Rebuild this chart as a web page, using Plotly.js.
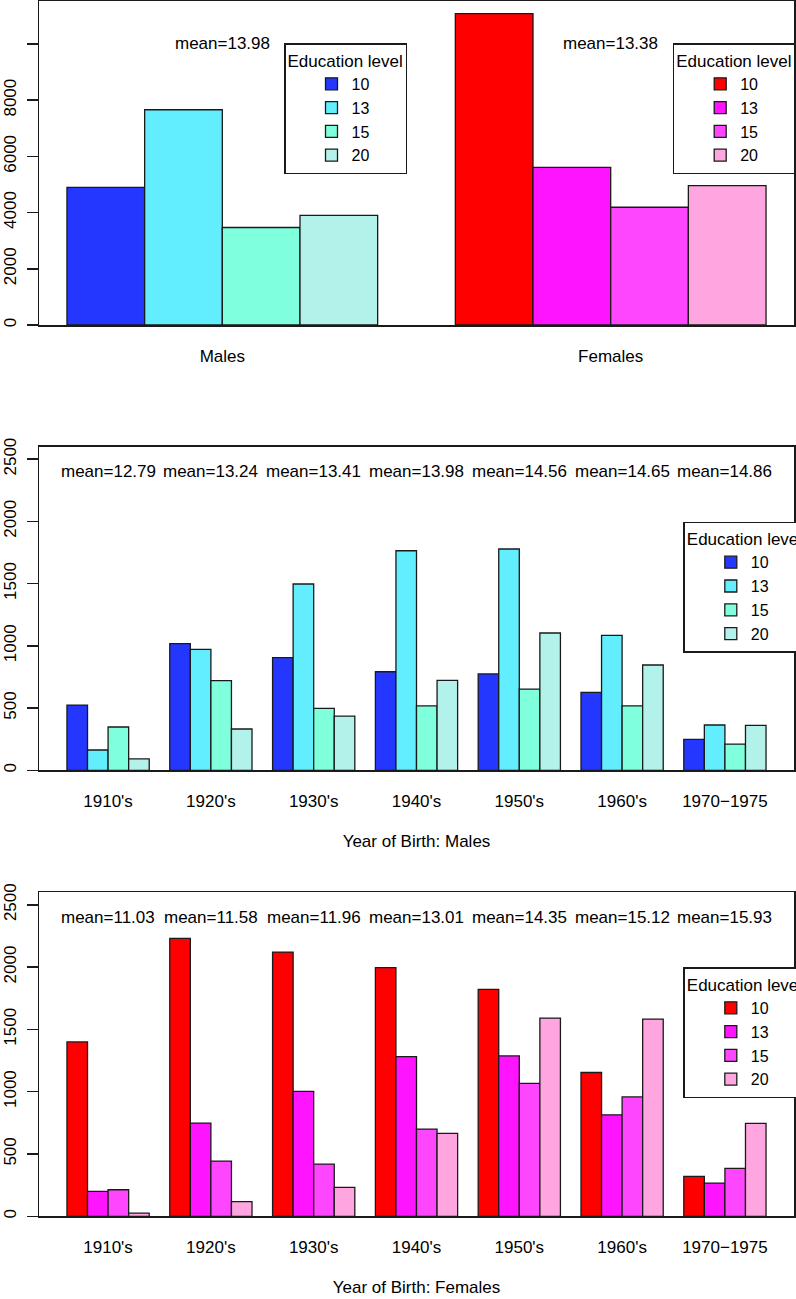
<!DOCTYPE html>
<html>
<head>
<meta charset="utf-8">
<script src="https://cdn.plot.ly/plotly-3.0.1.min.js"></script>
<style>html,body{margin:0;padding:0;background:#fff;}#chart{width:796px;height:1299px;}</style>
</head>
<body>
<div id="chart"></div>
<script>
// ---------- data ----------
const eduLevels = ["10", "13", "15", "20"];
const sexes = ["Males", "Females"];
const sexMeans = ["mean=13.98", "mean=13.38"];
const maleTotals = [4900, 7660, 3470, 3900];
const femaleTotals = [11080, 5610, 4190, 4960];

const decades = ["1910's", "1920's", "1930's", "1940's", "1950's", "1960's", "1970\u22121975"];
const maleMeans = ["mean=12.79", "mean=13.24", "mean=13.41", "mean=13.98", "mean=14.56", "mean=14.65", "mean=14.86"];
const femaleMeans = ["mean=11.03", "mean=11.58", "mean=11.96", "mean=13.01", "mean=14.35", "mean=15.12", "mean=15.93"];

const maleEdu10 = [524, 1017, 905, 792, 774, 626, 249];
const maleEdu13 = [163, 972, 1497, 1764, 1778, 1084, 364];
const maleEdu15 = [348, 720, 498, 517, 653, 517, 211];
const maleEdu20 = [91, 332, 436, 723, 1103, 846, 361];

const femaleEdu10 = [1399, 2230, 2120, 1995, 1821, 1154, 320];
const femaleEdu13 = [200, 748, 1002, 1282, 1287, 814, 267];
const femaleEdu15 = [213, 443, 419, 700, 1066, 958, 385];
const femaleEdu20 = [26, 117, 232, 665, 1591, 1583, 745];

const maleColors = ["#2437FF", "#62EEFF", "#7FFFDB", "#B3F2EB"];
const femaleColors = ["#FF0000", "#FF14FF", "#FF46FF", "#FFA6E0"];

// ---------- helpers ----------
const W = 796, H = 1299;
const FONT = "Liberation Sans, Arial, Helvetica, sans-serif";
const lineC = "#1a1a1a";
const px = v => v / W;
const py = v => 1 - v / H;

const traces = [];
const barLine = {color: lineC, width: 1.3};

// top panel
eduLevels.forEach((lv, i) => {
  traces.push({type: "bar", x: [sexes[0]], y: [maleTotals[i]], name: lv, xaxis: "x", yaxis: "y",
    offsetgroup: lv, marker: {color: maleColors[i], line: barLine}, legend: "legend", hoverinfo: "x+y"});
});
eduLevels.forEach((lv, i) => {
  traces.push({type: "bar", x: [sexes[1]], y: [femaleTotals[i]], name: lv, xaxis: "x", yaxis: "y",
    offsetgroup: lv, marker: {color: femaleColors[i], line: barLine}, legend: "legend2", hoverinfo: "x+y"});
});
// middle
const maleSeries = [maleEdu10, maleEdu13, maleEdu15, maleEdu20];
const femaleSeries = [femaleEdu10, femaleEdu13, femaleEdu15, femaleEdu20];
eduLevels.forEach((lv, i) => {
  traces.push({type: "bar", x: decades, y: maleSeries[i], name: lv, xaxis: "x2", yaxis: "y2",
    marker: {color: maleColors[i], line: barLine}, legend: "legend3"});
});
eduLevels.forEach((lv, i) => {
  traces.push({type: "bar", x: decades, y: femaleSeries[i], name: lv, xaxis: "x3", yaxis: "y3",
    marker: {color: femaleColors[i], line: barLine}, legend: "legend4"});
});

const tickFont = {family: FONT, size: 17, color: "#000"};
const xDom = [px(39), px(794)];

function xAxis(range, anchor, title) {
  const a = {domain: xDom, anchor: anchor, range: range, type: "category", showline: true, mirror: true,
    linecolor: lineC, linewidth: 1.5, ticks: "", showgrid: false, zeroline: false,
    tickfont: tickFont, ticklabelstandoff: 15, fixedrange: true};
  if (title) a.title = {text: title, font: tickFont, standoff: 25};
  return a;
}
function yAxis(domain, anchor, range, tv, tt) {
  return {domain: domain, anchor: anchor, range: range, showline: true, mirror: true, linecolor: lineC,
    linewidth: 1.5, ticks: "outside", ticklen: 11, tickwidth: 1.5, tickcolor: lineC, showgrid: false,
    zeroline: false, tickvals: tv, ticktext: tt, tickangle: -90, tickfont: tickFont, ticklabelstandoff: 4,
    fixedrange: true};
}
const topTicks = [0, 2000, 4000, 6000, 8000, 10000];
const topText = ["0", "2000", "4000", "6000", "8000", ""];
const midTicks = [0, 500, 1000, 1500, 2000, 2500];
const midText = midTicks.map(String);

function legendOpts(x, y) {
  return {x: x, y: y, xanchor: "left", yanchor: "top", xref: "paper", yref: "paper",
    bgcolor: "#fff", bordercolor: lineC, borderwidth: 1.5,
    font: {family: FONT, size: 16, color: "#000"},
    title: {text: "Education level", font: {family: FONT, size: 17, color: "#000"}},
    indentation: 26, traceorder: "normal", itemclick: false, itemdoubleclick: false};
}

const annotations = [];
sexes.forEach((s, i) => annotations.push({xref: "x", yref: "y", x: i, y: 10000, text: sexMeans[i],
  showarrow: false, font: tickFont, xanchor: "center", yanchor: "middle"}));
decades.forEach((d, i) => annotations.push({xref: "x2", yref: "y2", x: i, y: 2400, text: maleMeans[i],
  showarrow: false, font: tickFont, xanchor: "center", yanchor: "middle"}));
decades.forEach((d, i) => annotations.push({xref: "x3", yref: "y3", x: i, y: 2400, text: femaleMeans[i],
  showarrow: false, font: tickFont, xanchor: "center", yanchor: "middle"}));

const layout = {
  width: W, height: H,
  margin: {l: 0, r: 0, t: 0, b: 0, autoexpand: false},
  paper_bgcolor: "#fff", plot_bgcolor: "#fff",
  font: {family: FONT, size: 17, color: "#000"},
  barmode: "group", bargap: 0.2, bargroupgap: 0,
  xaxis: xAxis([-0.472, 1.472], "y", null),
  yaxis: yAxis([py(325), py(1)], "x", [0, 11530], topTicks, topText),
  xaxis2: xAxis([-0.672, 6.672], "y2", "Year of Birth: Males"),
  yaxis2: yAxis([py(770.3), py(446.7)], "x2", [0, 2600], midTicks, midText),
  xaxis3: xAxis([-0.672, 6.672], "y3", "Year of Birth: Females"),
  yaxis3: yAxis([py(1216.3), py(892.3)], "x3", [0, 2600], midTicks, midText),
  legend: legendOpts(px(284), py(43.3)),
  legend2: legendOpts(px(672.7), py(43.3)),
  legend3: legendOpts(px(683.3), py(521.7)),
  legend4: legendOpts(px(683.3), py(967.3)),
  annotations: annotations,
  showlegend: true
};

Plotly.newPlot("chart", traces, layout, {displayModeBar: false, staticPlot: true});
</script>
</body>
</html>
